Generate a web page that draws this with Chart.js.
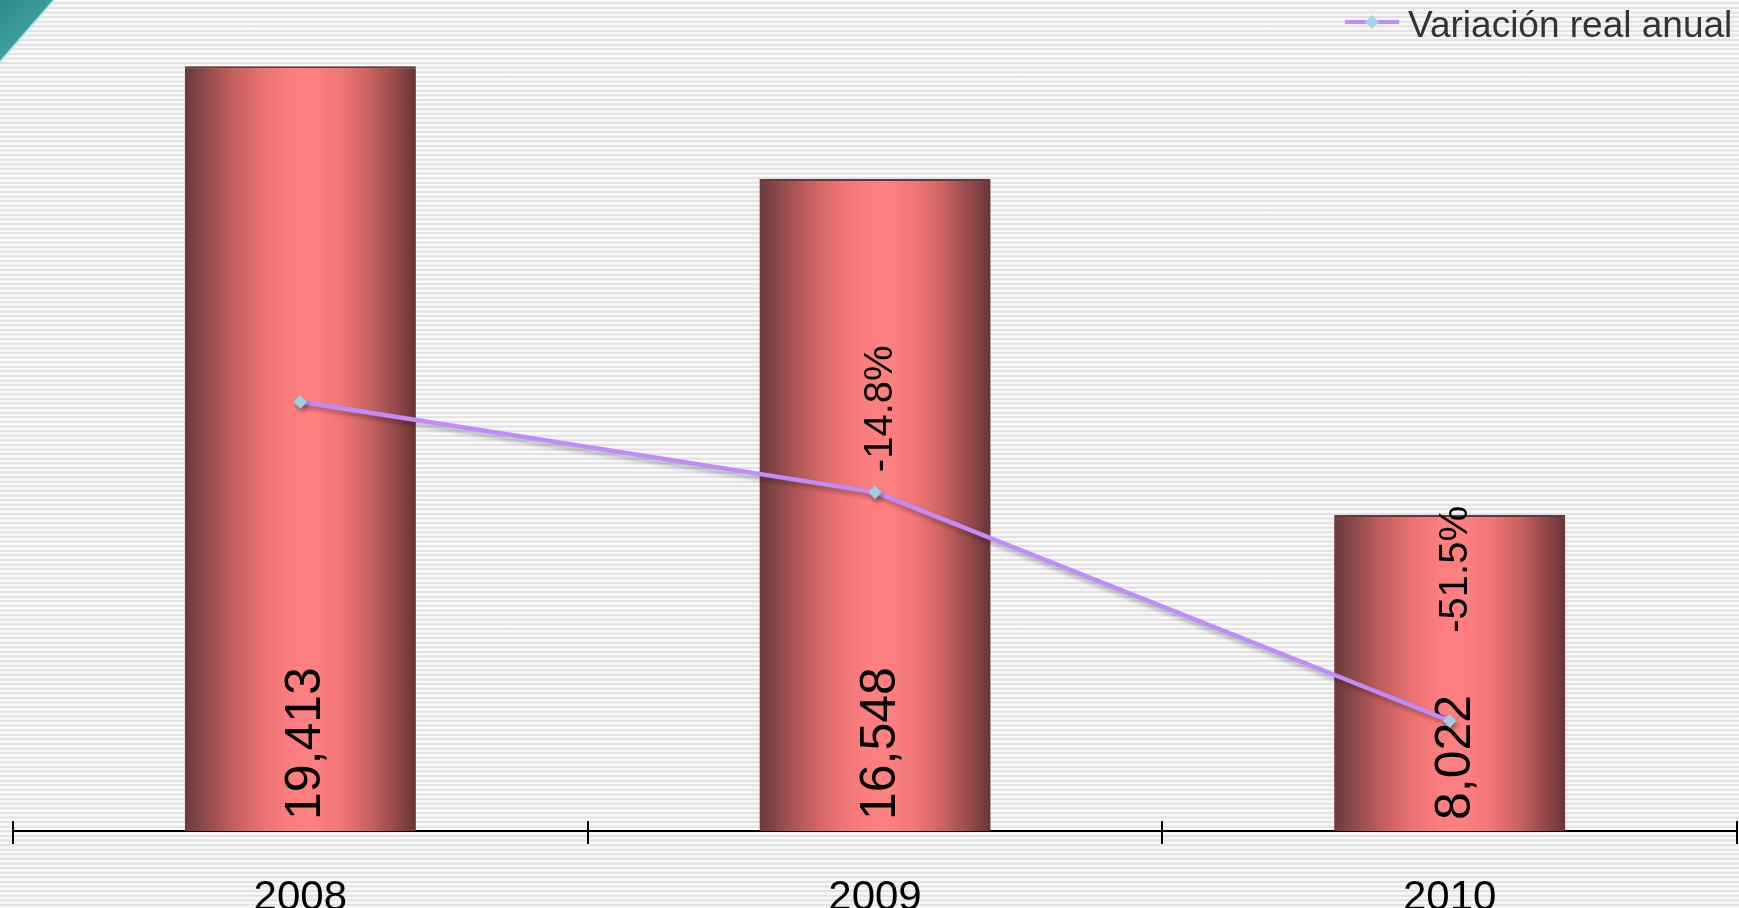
<!DOCTYPE html>
<html>
<head>
<meta charset="utf-8">
<script src="https://cdn.jsdelivr.net/npm/chart.js@4.4.0/dist/chart.umd.min.js"></script>
<style>
  html, body { margin: 0; padding: 0; width: 1739px; height: 908px; overflow: hidden; }
  body {
    background: repeating-linear-gradient(to bottom, #f8f8f8 0px, #f8f8f8 2px, #e2e2e2 2.6px, #e2e2e2 4px, #f8f8f8 4.6px);
  }
  #wrap { position: relative; width: 1739px; height: 908px; }
  canvas { display: block; }
</style>
</head>
<body>
<div id="wrap"><canvas id="c" width="1739" height="908"></canvas></div>
<script>
// ---- Data ----
const categories = ['2008', '2009', '2010'];
const montos = [19413, 16548, 8022];
const variacion = [-0.3, -14.8, -51.5];
const variacionLabels = ['', '-14.8%', '-51.5%'];
const seriesName = 'Variación real anual';

// ---- Styling constants ----
const FONT = '"Liberation Sans", Arial, Helvetica, sans-serif';
const BAR_FRAC = 0.402;
const LINE_COLOR = '#c08cf8';
const POINT_COLOR = '#a8d3ee';

function barGradient(ctx) {
  const chart = ctx.chart;
  const xs = chart.scales && chart.scales.x;
  if (!xs || ctx.type !== 'data' || !xs.width) return '#f07474';
  const cx = xs.getPixelForValue(ctx.dataIndex);
  const half = xs.width / categories.length * BAR_FRAC / 2;
  const g = chart.ctx.createLinearGradient(cx - half, 0, cx + half, 0);
  g.addColorStop(0.00, '#6c3a3a');
  g.addColorStop(0.07, '#864747');
  g.addColorStop(0.20, '#c05d5d');
  g.addColorStop(0.33, '#e87171');
  g.addColorStop(0.46, '#fd7e7e');
  g.addColorStop(0.56, '#ff8080');
  g.addColorStop(0.68, '#f07575');
  g.addColorStop(0.80, '#c96262');
  g.addColorStop(0.91, '#94494b');
  g.addColorStop(1.00, '#693535');
  return g;
}

const decorPlugin = {
  id: 'decor',
  beforeDraw(chart) {
    const ctx = chart.ctx;
    ctx.save();
    const g = ctx.createLinearGradient(0, 0, 40, 45);
    g.addColorStop(0, '#2c8a8a');
    g.addColorStop(0.7, '#3c9e9e');
    g.addColorStop(1, '#58b4b2');
    ctx.beginPath();
    ctx.moveTo(0, 0);
    ctx.lineTo(54, 0);
    ctx.lineTo(0, 62);
    ctx.closePath();
    ctx.fillStyle = g;
    ctx.fill();
    ctx.beginPath();
    ctx.moveTo(54, 0);
    ctx.lineTo(0, 62);
    ctx.strokeStyle = 'rgba(190,240,238,0.8)';
    ctx.lineWidth = 2;
    ctx.stroke();
    ctx.restore();
  },
  beforeDatasetDraw(chart, args) {
    const ctx = chart.ctx;
    ctx.save();
    if (args.index === 0) {
      ctx.shadowColor = 'rgba(0,0,0,0.35)';
      ctx.shadowBlur = 6;
      ctx.shadowOffsetX = 4;
      ctx.shadowOffsetY = 2;
    } else {
      ctx.shadowColor = 'rgba(0,0,0,0.28)';
      ctx.shadowBlur = 4;
      ctx.shadowOffsetX = 2;
      ctx.shadowOffsetY = 4;
    }
  },
  afterDatasetDraw(chart, args) {
    const ctx = chart.ctx;
    ctx.restore();
    if (args.index === 0) {
      const meta = args.meta;
      const base = chart.scales.y.getPixelForValue(0);
      ctx.save();
      ctx.font = '50px ' + FONT;
      ctx.fillStyle = '#000';
      ctx.textAlign = 'left';
      ctx.textBaseline = 'alphabetic';
      meta.data.forEach((el, i) => {
        const txt = montos[i].toLocaleString('en-US');
        ctx.save();
        ctx.translate(el.x + 2 + 18, base - 11);
        ctx.rotate(-Math.PI / 2);
        ctx.fillText(txt, 0, 0);
        ctx.restore();
      });
      ctx.restore();
    }
  },
  afterDatasetsDraw(chart, args, opts) {
    const ctx = chart.ctx;
    const meta = chart.getDatasetMeta(1);
    ctx.save();
    ctx.font = '40px ' + FONT;
    ctx.fillStyle = '#000';
    ctx.textAlign = 'left';
    ctx.textBaseline = 'alphabetic';
    meta.data.forEach((pt, i) => {
      const txt = variacionLabels[i];
      if (!txt) return;
      ctx.save();
      ctx.translate(pt.x + 3 + 14, pt.y - opts.pctOffsets[i]);
      ctx.rotate(-Math.PI / 2);
      ctx.fillText(txt, 0, 0);
      ctx.restore();
    });
    ctx.restore();

    // x-axis tick marks at category boundaries (above and below the axis)
    const xs = chart.scales.x;
    ctx.save();
    ctx.strokeStyle = '#000';
    ctx.lineWidth = 2;
    for (let i = 0; i <= categories.length; i++) {
      let x = Math.round(xs.getPixelForValue(i - 0.5));
      ctx.beginPath();
      ctx.moveTo(x, xs.top - 10);
      ctx.lineTo(x, xs.top + 13);
      ctx.stroke();
    }
    ctx.restore();

    // legend (top right)
    ctx.save();
    const ly = 22;
    ctx.strokeStyle = LINE_COLOR;
    ctx.lineWidth = 4;
    ctx.beginPath();
    ctx.moveTo(1345, ly);
    ctx.lineTo(1399, ly);
    ctx.stroke();
    ctx.fillStyle = POINT_COLOR;
    ctx.beginPath();
    ctx.moveTo(1372, ly - 7);
    ctx.lineTo(1379, ly);
    ctx.lineTo(1372, ly + 7);
    ctx.lineTo(1365, ly);
    ctx.closePath();
    ctx.fill();
    ctx.font = '37px ' + FONT;
    ctx.fillStyle = '#333333';
    ctx.textAlign = 'left';
    ctx.textBaseline = 'alphabetic';
    ctx.fillText(seriesName, 1408, 37);
    ctx.restore();
  }
};

new Chart(document.getElementById('c'), {
  type: 'bar',
  data: {
    labels: categories,
    datasets: [
      {
        type: 'bar',
        label: 'Monto',
        data: montos,
        yAxisID: 'y',
        backgroundColor: barGradient,
        borderColor: '#6e3a3a',
        borderWidth: { top: 2, left: 0, right: 0, bottom: 0 },
        borderSkipped: false,
        categoryPercentage: 1.0,
        barPercentage: BAR_FRAC,
        order: 1
      },
      {
        type: 'line',
        label: seriesName,
        data: variacion,
        yAxisID: 'y1',
        borderColor: LINE_COLOR,
        borderWidth: 4.5,
        tension: 0,
        pointStyle: 'rectRot',
        pointRadius: 6.5,
        pointBackgroundColor: POINT_COLOR,
        pointBorderColor: '#93c3e3',
        pointBorderWidth: 1,
        order: 0
      }
    ]
  },
  options: {
    responsive: false,
    animation: false,
    devicePixelRatio: 1,
    layout: { autoPadding: false, padding: { top: 43, left: 13, right: 2, bottom: 0 } },
    plugins: {
      legend: { display: false },
      tooltip: { enabled: false },
      decor: { pctOffsets: [0, 20, 88] }
    },
    scales: {
      x: {
        offset: true,
        grid: { display: false },
        border: { display: true, color: '#000', width: 2 },
        ticks: {
          color: '#000',
          font: { family: FONT, size: 42 },
          padding: 34,
          maxRotation: 0,
          autoSkip: false
        },
        afterFit(scale) { scale.height = 77; }
      },
      y: {
        display: false,
        min: 0,
        max: 20000
      },
      y1: {
        display: false,
        position: 'right',
        min: -69.2,
        max: 57.3
      }
    }
  },
  plugins: [decorPlugin]
});
</script>
</body>
</html>
